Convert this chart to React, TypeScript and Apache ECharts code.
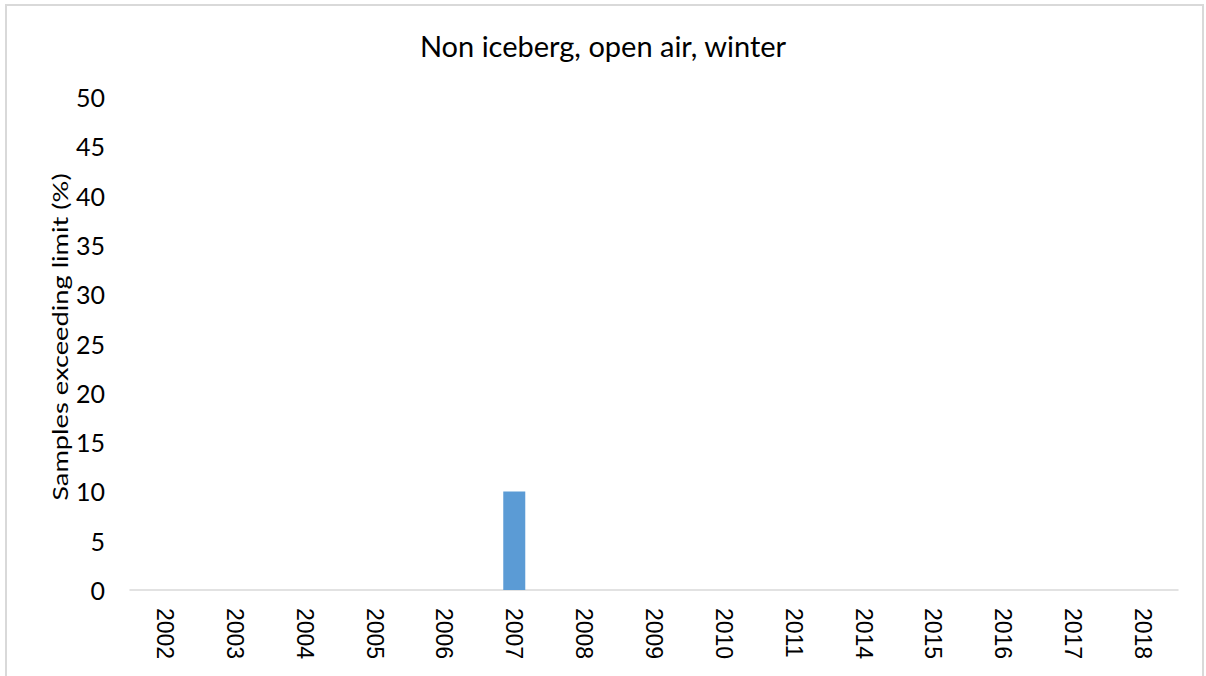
import React, { useEffect, useRef } from "react";
import * as echarts from "echarts";

const titleText = "Non iceberg, open air, winter";
const yAxisTitle = "Samples exceeding limit (%)";
const categories = ["2002", "2003", "2004", "2005", "2006", "2007", "2008", "2009", "2010", "2011", "2014", "2015", "2016", "2017", "2018"];
const values = [0, 0, 0, 0, 0, 10, 0, 0, 0, 0, 0, 0, 0, 0, 0];

export default function App() {
  const ref = useRef<HTMLDivElement>(null);
  useEffect(() => {
    const chart = echarts.init(ref.current!, null, { renderer: "svg" });
    chart.setOption({
      animation: false,
      backgroundColor: "#ffffff",
      title: {
        text: titleText,
        left: "center",
        top: 26,
        textStyle: { fontFamily: "Lato", fontSize: 29, fontWeight: "normal", color: "#000000" },
      },
      graphic: [
        {
          type: "rect",
          shape: { x: 6, y: 5, width: 1197, height: 700 },
          style: { fill: "none", stroke: "#d9d9d9", lineWidth: 2 },
          silent: true,
        },
        {
          type: "text",
          x: 60,
          y: 337,
          rotation: Math.PI / 2,
          scaleX: 1.24,
          scaleY: 1,
          style: {
            text: yAxisTitle,
            fontFamily: "Lato",
            fontSize: 22,
            fill: "#000000",
            align: "center",
            verticalAlign: "middle",
          },
        },
      ],
      grid: { left: 130, right: 28, top: 97, bottom: 86 },
      xAxis: {
        type: "category",
        data: categories,
        axisLine: { show: true, lineStyle: { color: "#d9d9d9", width: 1.5 } },
        axisTick: { show: false },
        axisLabel: {
          rotate: -90,
          margin: 18,
          fontFamily: "Liberation Sans",
          fontSize: 23,
          color: "#000000",
        },
      },
      yAxis: {
        type: "value",
        min: 0,
        max: 50,
        interval: 5,
        axisLine: { show: false },
        axisTick: { show: false },
        splitLine: { show: false },
        axisLabel: { margin: 25, fontFamily: "Lato", fontSize: 25, color: "#000000" },
      },
      series: [
        {
          type: "bar",
          data: values,
          barWidth: 22,
          itemStyle: { color: "#5b9bd5" },
        },
      ],
    });
    return () => chart.dispose();
  }, []);
  return <div ref={ref} style={{ position: "absolute", left: 0, top: 0, width: 1206, height: 676 }} />;
}
